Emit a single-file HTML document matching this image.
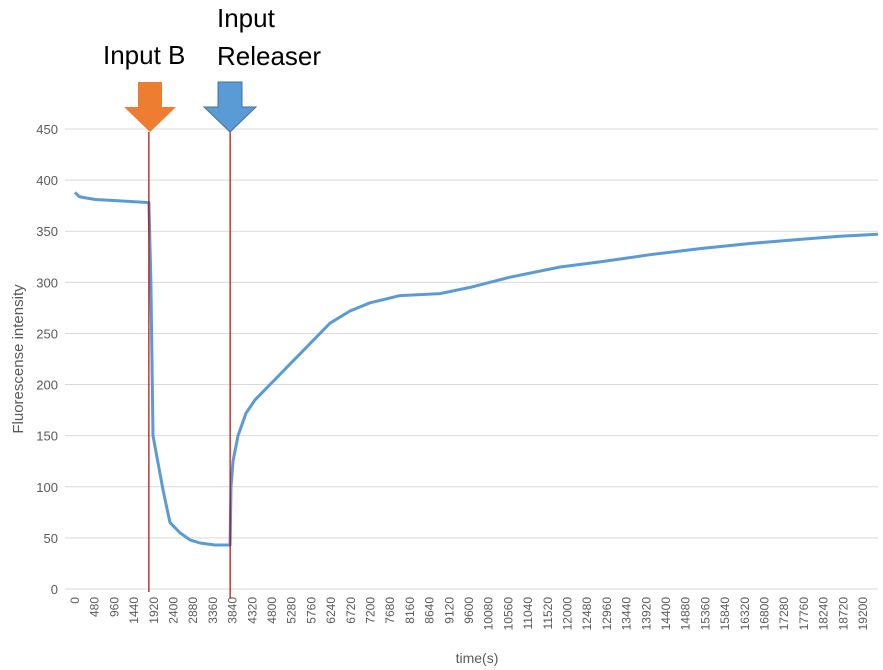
<!DOCTYPE html>
<html><head><meta charset="utf-8"><style>
body{margin:0;background:#fff;width:883px;height:670px;overflow:hidden}
svg{display:block;font-family:"Liberation Sans",sans-serif}
</style></head><body>
<svg id="c" width="883" height="670">
<g id="grid"></g>
<g id="yt"></g>
<g id="xt"></g>
<text transform="translate(23,359) rotate(-90)" text-anchor="middle" font-size="15" fill="#595959">Fluorescense intensity</text>
<text x="477" y="663" text-anchor="middle" font-size="14" fill="#595959">time(s)</text>
<g id="marks"></g>
<text x="103" y="64" font-size="26" fill="#000">Input B</text>
<text x="217" y="27" font-size="26" fill="#000">Input</text>
<text x="217" y="65" font-size="26" fill="#000">Releaser</text>
<polygon points="138,82 162,82 162,107 176,107 150,132 124,107 138,107" fill="#ed7d31"/>
<polygon points="218,82 242,82 242,107 256,107 230,132 204,107 218,107" fill="#5b9bd5" stroke="#41719c" stroke-width="1"/>
</svg>
<script>
const yTicks=[0,50,100,150,200,250,300,350,400,450];
const xTickStep=480, xTickMax=19200;
const times=[0,100,200,500,1000,1400,1800,1850,1900,2144,2315,2558,2802,3046,3411,3780,3800,3850,3971,4166,4386,4751,5239,5726,6213,6700,7188,7919,8893,9624,10599,11817,12792,14010,15228,16447,17665,18640,19565];
const values=[388,384,383,381,380,379,378,300,150,97,65,55,48,45,43,43,100,125,150,172,185,200,220,240,260,272,280,287,289,295,305,315,320,327,333,338,342,345,347];
const events=[1800,3780];
const NS="http://www.w3.org/2000/svg";
const X=t=>75+t/480*19.7, Y=v=>589-v*460/450;
function el(tag,a,p){const e=document.createElementNS(NS,tag);for(const k in a)e.setAttribute(k,a[k]);p.appendChild(e);return e;}
const grid=document.getElementById('grid'),yt=document.getElementById('yt'),xt=document.getElementById('xt'),marks=document.getElementById('marks');
yTicks.forEach(v=>{
 const l=el('line',{x1:65,x2:878,y1:Y(v),y2:Y(v),stroke:'#d9d9d9','stroke-width':1},grid);
 
 
 const t=el('text',{x:58,y:Y(v)+5,'text-anchor':'end','font-size':13,fill:'#595959'},yt);
 t.textContent=v;
 
 
});
for(let t=0;t<=xTickMax;t+=xTickStep){
 const x=X(t);
 const tx=el('text',{transform:`translate(${x+4},597) rotate(-90)`,'text-anchor':'end','font-size':12,fill:'#595959'},xt);
 tx.textContent=t;
 
 
}
const pts=times.map((t,i)=>X(t).toFixed(1)+','+Y(values[i]).toFixed(1)).join(' ');
const pl=el('polyline',{points:pts,fill:'none',stroke:'#5b9bd5','stroke-width':3,'stroke-linejoin':'round'},marks);


events.forEach((t,i)=>{
 const l=el('line',{x1:X(t),x2:X(t),y1:132,y2:i?598:592,stroke:'#c00000','stroke-width':1.2},marks);
 
 
});
</script>
</body></html>
